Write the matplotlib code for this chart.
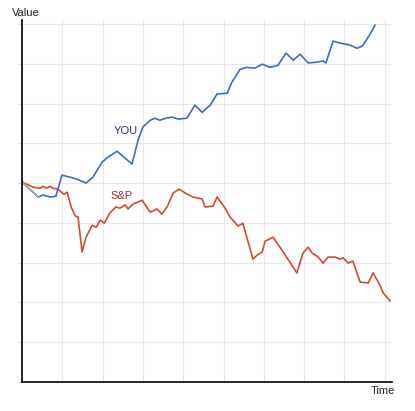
import numpy as np
import matplotlib
matplotlib.use('Agg')
import matplotlib.pyplot as plt

# data (grid spacing = 10 units)
you_time = [0, 4.0, 5.2, 7.0, 8.4, 9.9, 11.9, 13.6, 15.9, 17.6, 19.9, 21.3, 23.6, 25.3, 27.3,
            28.8, 30.0, 31.8, 33.0, 34.2, 35.7, 37.2, 38.7, 40.9, 42.9, 44.7, 46.7, 48.4, 50.9,
            52.1, 54.1, 55.8, 57.8, 59.6, 61.5, 63.5, 65.5, 67.3, 69.0, 71.0, 73.2, 74.7, 75.4,
            77.2, 78.9, 81.4, 83.1, 84.4, 85.9, 87.6]
you_value = [50.3, 46.5, 47.0, 46.5, 46.7, 52.0, 51.5, 51.0, 50.0, 51.5, 55.3, 56.5, 58.0, 56.5,
             54.8, 60.8, 64.1, 65.8, 66.3, 65.8, 66.3, 66.6, 66.1, 66.3, 69.6, 67.8, 69.6, 72.4,
             72.6, 75.4, 78.6, 79.1, 78.9, 79.9, 79.1, 79.6, 82.7, 80.9, 82.4, 80.2, 80.4, 80.7,
             80.2, 85.7, 85.2, 84.7, 83.9, 84.4, 86.7, 89.7]

sp_time = [0, 2.7, 4.5, 5.2, 6.0, 7.0, 7.7, 8.9, 10.4, 11.2, 12.2, 13.2, 13.9, 14.9, 15.9, 17.4,
           18.4, 19.4, 20.4, 21.8, 23.3, 24.3, 25.6, 26.3, 27.5, 29.8, 31.8, 33.5, 34.7, 36.0,
           37.5, 39.0, 40.5, 42.4, 44.7, 45.4, 47.4, 48.4, 50.4, 51.6, 53.6, 54.8, 57.3, 58.3,
           59.6, 60.3, 62.3, 64.8, 68.2, 69.7, 71.0, 72.0, 73.5, 74.7, 75.9, 77.7, 78.9, 79.7,
           80.9, 82.1, 83.9, 85.9, 87.1, 88.8, 89.6, 91.3]
sp_value = [50.3, 49.0, 48.7, 49.2, 48.7, 49.2, 48.7, 48.5, 47.2, 47.7, 44.0, 41.7, 41.5, 32.7,
            36.4, 39.4, 38.9, 40.7, 39.9, 42.5, 44.0, 43.7, 44.5, 43.5, 44.7, 45.7, 42.7, 43.5,
            42.2, 44.0, 47.5, 48.5, 47.5, 46.5, 46.0, 44.0, 44.2, 46.5, 43.7, 41.5, 39.2, 39.9,
            30.9, 31.9, 32.7, 35.4, 36.4, 32.7, 27.4, 32.4, 33.9, 32.4, 31.4, 29.9, 31.4, 31.4,
            30.9, 31.2, 29.9, 30.4, 25.1, 24.9, 27.4, 24.4, 22.4, 20.4]

grid_ticks = np.arange(0, 100, 10)

fig = plt.figure(figsize=(4.15, 4.11), dpi=100)
ax = fig.add_axes([22/415, 29/411, 370/415, 362/411])

ax.plot(sp_time, sp_value, color='#d64a2e', lw=1.2)
ax.plot(you_time, you_value, color='#3b6bd1', lw=1.2)
ax.plot(you_time[:2], you_value[:2], color='#a8a8a8', lw=1.3)

ax.text(25.7, 63.1, 'YOU', color='#2b3990', fontsize=8, family='Liberation Sans',
        ha='center', va='center')
ax.text(24.7, 46.7, 'S&P', color='#a02c2c', fontsize=8, family='Liberation Sans',
        ha='center', va='center')

ax.set_xlim(0, 91.8)
ax.set_ylim(0, 91)
ax.set_xticks(grid_ticks)
ax.set_yticks(grid_ticks)
ax.set_xticklabels([])
ax.set_yticklabels([])
ax.grid(True, color='#e8e8e8', lw=0.8)
ax.set_axisbelow(True)
ax.tick_params(axis='y', length=3, color='#dddddd')
ax.tick_params(axis='x', length=0)
for s in ['top', 'right']:
    ax.spines[s].set_visible(False)
for s in ['left', 'bottom']:
    ax.spines[s].set_linewidth(1.2)
    ax.spines[s].set_color('black')

fig.text(12/415, 1 - 13/411, 'Value', fontsize=8, family='Liberation Sans',
         ha='left', va='center', color='#222222')
fig.text(395/415, 1 - 391/411, 'Time', fontsize=8, family='Liberation Sans',
         ha='right', va='center', color='#222222')

fig.savefig('out.png', dpi=100)
